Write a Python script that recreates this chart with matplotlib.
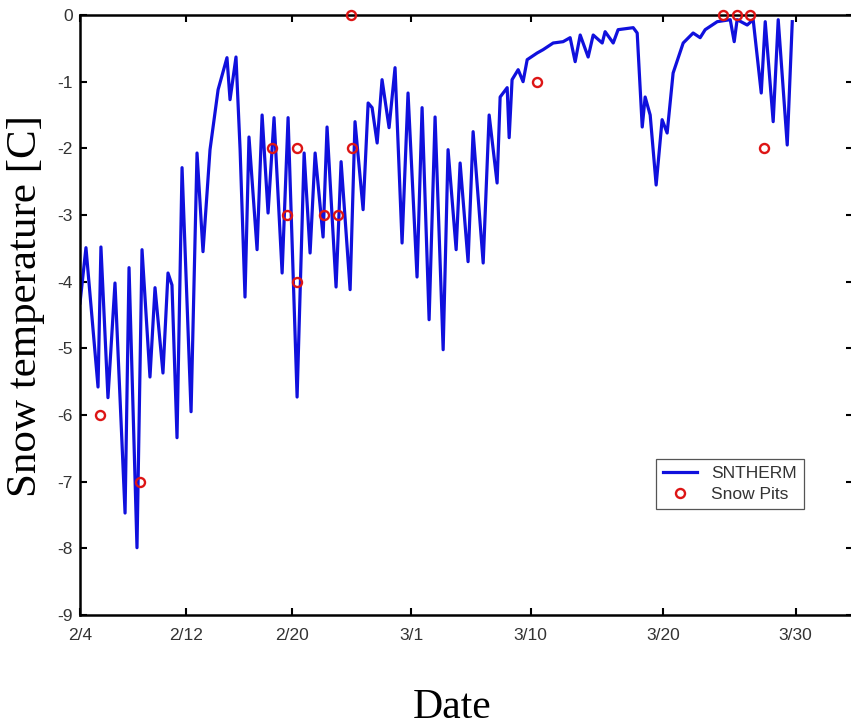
import matplotlib
matplotlib.use("Agg")
import matplotlib.pyplot as plt

plt.rcParams['axes.unicode_minus'] = False

# days after 2/4 and modelled snow temperature (C)
sntherm_day = [0.0, 0.45, 1.36, 1.58, 2.11, 2.64, 3.40, 3.70, 4.30, 4.68,
               5.28, 5.66, 6.26, 6.64, 6.94, 7.32, 7.70, 8.38, 8.83, 9.28,
               9.81, 10.42, 11.09, 11.32, 11.77, 12.08, 12.45, 12.75, 13.36, 13.74,
               14.19, 14.64, 15.25, 15.70, 16.38, 16.91, 17.36, 17.74, 18.34, 18.64,
               19.32, 19.70, 20.38, 20.75, 21.36, 21.74, 22.04, 22.42, 22.79, 23.32,
               23.77, 24.30, 24.75, 25.43, 25.81, 26.34, 26.79, 27.40, 27.77, 28.38,
               28.68, 29.28, 29.66, 30.42, 30.87, 31.47, 31.70, 32.23, 32.38, 32.60,
               33.06, 33.43, 33.74, 34.49, 34.94, 35.70, 36.45, 36.98, 37.36, 37.74,
               38.34, 38.72, 39.40, 39.62, 40.23, 40.60, 41.74, 42.04, 42.42, 42.64,
               43.02, 43.47, 43.92, 44.30, 44.75, 45.51, 46.26, 46.79, 47.17, 48.08,
               49.06, 49.36, 49.58, 50.34, 50.79, 51.40, 51.70, 52.30, 52.68, 53.36,
               53.74]
sntherm_temp = [-4.32, -3.49, -5.58, -3.48, -5.74, -4.02, -7.47, -3.79, -7.99, -3.52,
                -5.43, -4.09, -5.37, -3.87, -4.05, -6.34, -2.29, -5.95, -2.07, -3.55,
                -2.02, -1.12, -0.64, -1.27, -0.63, -2.02, -4.23, -1.83, -3.52, -1.50,
                -2.97, -1.54, -3.87, -1.54, -5.73, -2.07, -3.57, -2.07, -3.33, -1.68,
                -4.08, -2.20, -4.12, -1.60, -2.92, -1.32, -1.39, -1.92, -0.97, -1.69,
                -0.79, -3.42, -1.17, -3.93, -1.39, -4.57, -1.53, -5.02, -2.02, -3.52,
                -2.22, -3.70, -1.75, -3.72, -1.50, -2.52, -1.23, -1.09, -1.84, -0.97,
                -0.82, -1.00, -0.67, -0.57, -0.52, -0.42, -0.40, -0.34, -0.70, -0.30,
                -0.63, -0.30, -0.42, -0.25, -0.42, -0.22, -0.19, -0.27, -1.68, -1.23,
                -1.50, -2.55, -1.57, -1.77, -0.87, -0.42, -0.27, -0.34, -0.22, -0.10,
                -0.07, -0.40, -0.07, -0.15, -0.07, -1.17, -0.10, -1.60, -0.07, -1.95,
                -0.10]

# snow pit observations
pit_day = [1.51, 4.53, 14.49, 15.62, 16.38, 16.38, 18.42, 19.47, 20.53, 20.45,
           34.49, 48.53, 49.58, 50.57, 51.62]
pit_temp = [-6, -7, -2, -3, -2, -4, -3, -3, -2, 0,
            -1, 0, 0, 0, -2]

tick_days = [0, 8, 16, 25, 34, 44, 54]
tick_labels = ['2/4', '2/12', '2/20', '3/1', '3/10', '3/20', '3/30']

fig = plt.figure(figsize=(8.51, 7.25), dpi=100)
ax = fig.add_axes([0.094, 0.1517, 0.908, 0.8276])

ax.plot(sntherm_day, sntherm_temp, color='#1010dd', lw=2.3, label='SNTHERM')
ax.plot(pit_day, pit_temp, 'o', mfc='none', mec='#dd1515', mew=1.7, ms=6.5,
        label='Snow Pits', clip_on=False, zorder=5)

ax.set_xlim(0, 58.3)
ax.set_ylim(-9, 0)
ax.set_xticks(tick_days)
ax.set_xticklabels(tick_labels)
ax.set_yticks(range(-9, 1))

ax.tick_params(direction='in', length=5, width=1.5, top=True, right=True,
               labelsize=12.5, labelcolor='#333333',
               labelfontfamily='Liberation Sans')
ax.tick_params(axis='x', pad=9)
ax.tick_params(axis='y', pad=5)
for s in ax.spines.values():
    s.set_linewidth(1.8)

ax.set_ylabel('Snow temperature [C]', fontsize=31, family='Liberation Serif')
ax.yaxis.set_label_coords(-0.045, 0.515)
ax.set_xlabel('Date', fontsize=30, family='Liberation Serif')
ax.xaxis.set_label_coords(0.482, -0.122)

leg = ax.legend(loc='lower right', bbox_to_anchor=(0.948, 0.163),
                fancybox=False, edgecolor='#555555', framealpha=1,
                prop={'family': 'Liberation Sans', 'size': 12.5},
                handlelength=2.0, borderpad=0.4, labelspacing=0.3)
for t in leg.get_texts():
    t.set_color('#333333')
leg.get_frame().set_linewidth(0.9)

fig.savefig('out.png', dpi=100)
